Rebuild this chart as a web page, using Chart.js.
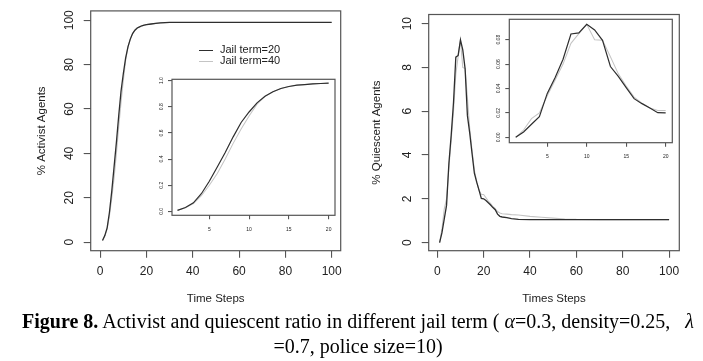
<!DOCTYPE html>
<html>
<head>
<meta charset="utf-8">
<script src="https://cdn.jsdelivr.net/npm/chart.js@4.4.1/dist/chart.umd.min.js"></script>
<style>
  html, body { margin: 0; padding: 0; background: #fff; }
  #page { position: relative; width: 703px; height: 361px; overflow: hidden; background: #fff; }
  canvas { position: absolute; }
  #legend { position: absolute; left: 199px; top: 44px; font: 11px 'Liberation Sans', Arial, sans-serif; color: #222; }
  #legend .row { height: 11px; line-height: 11px; white-space: nowrap; }
  #legend .sw { display: inline-block; width: 14px; height: 0; vertical-align: middle; margin-right: 7px; }
  #caption { position: absolute; left: 0; top: 309px; width: 716px; text-align: center;
             font: 20px 'Liberation Serif', 'Times New Roman', serif; line-height: 25px; color: #000; white-space: nowrap; }
  #caption b { font-weight: bold; }
  #caption i { font-style: italic; }
</style>
</head>
<body>
<div id="page">
  <canvas id="act-main" width="350" height="310" style="left:0;top:0"></canvas>
  <canvas id="act-inset" width="200" height="170" style="left:140px;top:70px"></canvas>
  <canvas id="qui-main" width="353" height="310" style="left:350px;top:0"></canvas>
  <canvas id="qui-inset" width="210" height="160" style="left:470px;top:10px"></canvas>
  <div id="legend"></div>
  <div id="caption"><b>Figure 8.</b> Activist and quiescent ratio in different jail term ( <i>α</i>=0.3, density=0.25, &nbsp; <i>λ</i><br>=0.7, police size=10)</div>
</div>
<script>
/* ── Datos ─────────────────────────────────────────────── */
const SERIES = ['Jail term=20', 'Jail term=40'];
const COL_20 = '#2e2e2e';
const COL_40 = '#c4c4c4';
const LINE_COL = '#555';
const TXT_COL = '#222';

// % Activist Agents
const T_ACT  = [1,2,3,4,5,6,7,8,9,10,11,12,13,14,15,16,17,18,19,20,22,24,26,28,30,35,40,50,60,70,80,90,100];
const ACT_20 = [0.8,3,6.5,13.5,23,34,45,57,68,76,83,88,91.5,94,95.5,96.5,97,97.5,97.8,98,98.3,98.6,98.8,98.9,99,99,99,99,99,99,99,99,99];
const ACT_40 = [0.8,2.8,6,12,20,29,40,52,63,73,82,88,91.5,94,95.5,96.5,97,97.5,97.8,98,98.3,98.6,98.8,98.9,99,99,99,99,99,99,99,99,99];

// % Quiescent Agents
const T_QUI  = [1,2,3,4,5,6,7,8,9,10,11,12,13,14,15,16,17,18,19,20,21,22,23,24,25,26,27,28,30,32,35,40,45,50,55,60,70,80,90,100];
const QUI_20 = [0,0.44,1.07,1.7,3.6,4.9,6.4,8.47,8.55,9.26,8.8,7.95,5.8,5.0,4.07,3.17,2.76,2.4,2.02,2.0,
                1.92,1.82,1.72,1.6,1.5,1.3,1.2,1.17,1.14,1.1,1.06,1.05,1.05,1.05,1.05,1.05,1.05,1.05,1.05,1.05];
const QUI_40 = [0,0.6,1.53,2.0,3.4,4.7,6.0,7.7,8.5,9.26,8.0,7.95,6.6,5.2,4.2,3.3,2.8,2.4,2.2,2.2,
                2.05,1.9,1.78,1.65,1.55,1.42,1.35,1.32,1.3,1.28,1.26,1.2,1.16,1.12,1.08,1.06,1.05,1.05,1.05,1.05];

const MAIN_X_TICKS = [0,20,40,60,80,100];
const ACT_Y_TICKS  = [0,20,40,60,80,100];
const QUI_Y_TICKS  = [0,2,4,6,8,10];
const INSET_X_TICKS = [5,10,15,20];
const ACT_INSET_Y_TICKS = [0,0.2,0.4,0.6,0.8,1.0];
const QUI_INSET_Y_TICKS = [0,0.02,0.04,0.06,0.08];
const INSET_STEPS = 20;

/* ── Config global ─────────────────────────────────────── */
Chart.defaults.font.family = "'Liberation Sans', Arial, sans-serif";
Chart.defaults.color = TXT_COL;
Chart.defaults.animation = false;

const pts = (xs, ys, n = xs.length, k = 1) => xs.slice(0, n).map((x, i) => ({ x, y: ys[i] * k }));

// caja completa tipo R alrededor del área del gráfico
const framePlugin = {
  id: 'frame',
  afterDraw(chart) {
    const { ctx, chartArea: a } = chart;
    ctx.save();
    ctx.strokeStyle = LINE_COL;
    ctx.lineWidth = 1.2;
    ctx.strokeRect(a.left, a.top, a.right - a.left, a.bottom - a.top);
    ctx.restore();
  },
};

function axis(o) {
  return {
    type: 'linear', min: o.min, max: o.max,
    afterBuildTicks: s => { s.ticks = o.ticks.map(v => ({ value: v })); },
    afterFit: s => { if (o.width != null) s.width = o.width; if (o.height != null) s.height = o.height; },
    grid: { drawOnChartArea: false, drawTicks: true, tickLength: o.tl, color: LINE_COL, lineWidth: 1.1 },
    border: { display: false },
    ticks: {
      font: { size: o.fs }, padding: o.pad, color: TXT_COL,
      minRotation: o.rot || 0, maxRotation: o.rot || 0, crossAlign: o.rot ? 'center' : 'near',
      callback: v => o.fmt ? o.fmt(v) : String(v),
    },
    title: o.title
      ? { display: true, text: o.title, font: { size: 11.5 }, color: TXT_COL, padding: o.titlePad }
      : { display: false },
  };
}

function lineChart(id, d20, d40, padding, x, y, lw) {
  return new Chart(document.getElementById(id), {
    type: 'line',
    data: {
      datasets: [
        { label: SERIES[0], data: d20, borderColor: COL_20, borderWidth: lw, pointRadius: 0, tension: 0 },
        { label: SERIES[1], data: d40, borderColor: COL_40, borderWidth: lw * 0.85, pointRadius: 0, tension: 0 },
      ],
    },
    options: {
      responsive: false, devicePixelRatio: 1,
      layout: { padding },
      scales: { x, y },
      plugins: { legend: { display: false }, tooltip: { enabled: false } },
    },
    plugins: [framePlugin],
  });
}

/* ── 1. Activistas ─────────────────────────────────────── */
lineChart('act-main', pts(T_ACT, ACT_20), pts(T_ACT, ACT_40),
  { top: 9, right: 9.3, left: 0, bottom: 0 },
  axis({ min: -4.1, max: 103.9, ticks: MAIN_X_TICKS, height: 59.3, tl: 7, fs: 12, pad: 7, title: 'Time Steps', titlePad: { bottom: 4 } }),
  axis({ min: -3.8, max: 104.2, ticks: ACT_Y_TICKS, width: 90.7, tl: 7, fs: 12, pad: 3.7, rot: 90, title: '% Activist Agents', titlePad: { top: 34.8 } }),
  1.3);

lineChart('act-inset', pts(T_ACT, ACT_20, INSET_STEPS, 0.01), pts(T_ACT, ACT_40, INSET_STEPS, 0.01),
  { top: 9.3, right: 5, left: 0, bottom: 0 },
  axis({ min: 0.31, max: 20.8, ticks: INSET_X_TICKS, height: 24.7, tl: 4, fs: 5, pad: 7.7 }),
  axis({ min: -0.03, max: 1.01, ticks: ACT_INSET_Y_TICKS, width: 32, tl: 4, fs: 5, pad: 2.8, rot: 90, fmt: v => v.toFixed(1) }),
  1.2);

/* ── 2. Quiescentes ────────────────────────────────────── */
lineChart('qui-main', pts(T_QUI, QUI_20), pts(T_QUI, QUI_40),
  { top: 8.3, right: 23.7, left: 0, bottom: 0 },
  axis({ min: -3.7, max: 104.4, ticks: MAIN_X_TICKS, height: 59.3, tl: 7, fs: 12, pad: 7, title: 'Times Steps', titlePad: { bottom: 4 } }),
  axis({ min: -0.37, max: 10.42, ticks: QUI_Y_TICKS, width: 78.7, tl: 7, fs: 12, pad: 7.3, rot: 90, title: '% Quiescent Agents', titlePad: { top: 20.4 } }),
  1.3);

lineChart('qui-inset', pts(T_QUI, QUI_20, INSET_STEPS, 0.01), pts(T_QUI, QUI_40, INSET_STEPS, 0.01),
  { top: 9.3, right: 7.7, left: 0, bottom: 0 },
  axis({ min: 0.19, max: 20.84, ticks: INSET_X_TICKS, height: 27.3, tl: 4, fs: 5, pad: 7 }),
  axis({ min: -0.0044, max: 0.0967, ticks: QUI_INSET_Y_TICKS, width: 39.3, tl: 4, fs: 5, pad: 2.1, rot: 90, fmt: v => v.toFixed(2) }),
  1.2);

/* ── Leyenda ───────────────────────────────────────────── */
document.getElementById('legend').innerHTML = SERIES.map((s, i) =>
  `<div class="row"><span class="sw" style="border-top:1.3px solid ${i ? COL_40 : COL_20}"></span>${s}</div>`).join('');
</script>
</body>
</html>
